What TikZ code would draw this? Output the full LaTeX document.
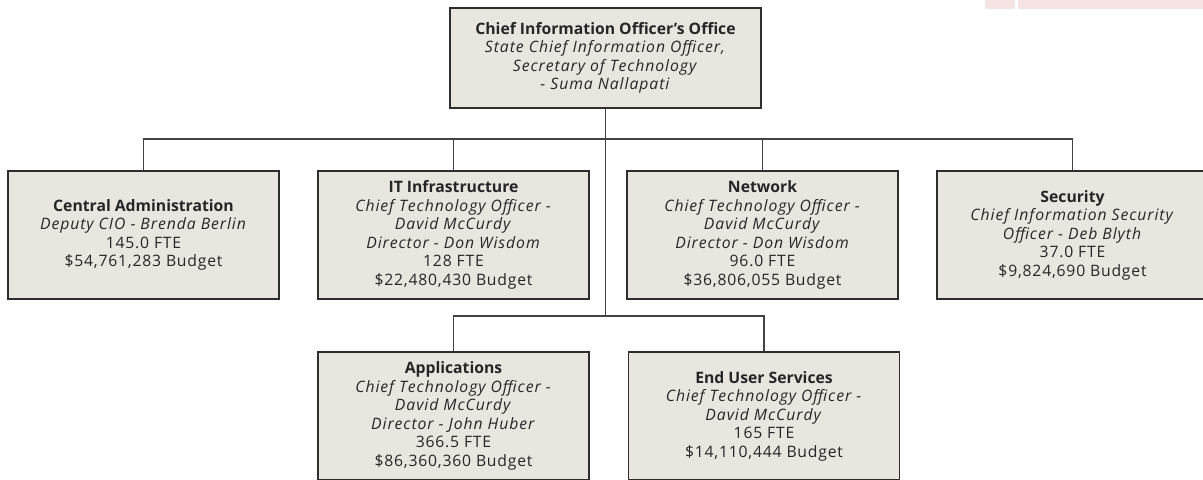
\documentclass[tikz,border=0pt]{standalone}
\usepackage{fontspec}
\setmainfont{Open Sans}[UprightFeatures={LetterSpace=5},ItalicFeatures={LetterSpace=6}]
\usetikzlibrary{positioning}

\definecolor{boxfill}{HTML}{E9E6DF}
\definecolor{boxline}{HTML}{2E2E2E}
\definecolor{stripfill}{HTML}{F6E3E3}

\begin{document}
\begin{tikzpicture}[x=0.75pt,y=-0.75pt]
       \tikzset{every node/.style={font=\fontsize{11.8}{13.9}\selectfont, text=black!85},
                unit/.style={draw=boxline, line width=1.1pt, fill=boxfill,
                             minimum width=203pt, minimum height=96pt,
                             align=center, inner sep=0pt},
                head/.style={unit, minimum width=233pt, minimum height=75pt},
                link/.style={draw=boxline!90, line width=1.1pt}}
       \useasboundingbox (0,0) rectangle (1203,479);

       % cut-off strip along the top edge
       \fill[stripfill] (985,0) rectangle (1015,9);
       \fill[stripfill] (1018,0) rectangle (1203,9);

       \node[head] (cio) at (605.5,58)
             {\textbf{Chief Information Officer’s Office}\\
              \textit{State Chief Information Officer,}\\
              \textit{Secretary of Technology}\\
              \textit{- Suma Nallapati}};

       \node[unit] (admin) at (143.5,235)
             {\textbf{Central Administration}\\
              \textit{Deputy CIO - Brenda  Berlin}\\
              145.0 FTE\\
              \$54,761,283 Budget};
       \node[unit] (infra) at (453.5,235)
             {\textbf{IT Infrastructure}\\
              \textit{Chief Technology Officer -}\\
              \textit{David McCurdy}\\
              \textit{Director - Don Wisdom}\\
              128 FTE\\
              \$22,480,430 Budget};
       \node[unit] (net) at (762.5,235)
             {\textbf{Network}\\
              \textit{Chief Technology Officer -}\\
              \textit{David McCurdy}\\
              \textit{Director - Don Wisdom}\\
              96.0 FTE\\
              \$36,806,055 Budget};
       \node[unit] (sec) at (1072.5,235)
             {\textbf{Security}\\
              \textit{Chief Information Security}\\
              \textit{Officer - Deb Blyth}\\
              37.0 FTE\\
              \$9,824,690 Budget};

       \node[unit] (apps) at (453.5,416)
             {\textbf{Applications}\\
              \textit{Chief Technology Officer -}\\
              \textit{David McCurdy}\\
              \textit{Director - John  Huber}\\
              366.5 FTE\\
              \$86,360,360 Budget};
       \node[unit] (eus) at (764,416)
             {\textbf{End User Services}\\
              \textit{Chief Technology Officer -}\\
              \textit{David McCurdy}\\
              165 FTE\\
              \$14,110,444 Budget};

       \coordinate (bus) at (605.5,139);
       \coordinate (lowbus) at (605.5,316);

       \path[link]
       (cio.south) -- (bus)
       (bus) -| (admin.north)
       (bus) -| (infra.north)
       (bus) -| (net.north)
       (bus) -| (sec.north)
       (bus) -- (lowbus)
       (lowbus) -| (apps.north)
       (lowbus) -| (eus.north);
\end{tikzpicture}
\end{document}
